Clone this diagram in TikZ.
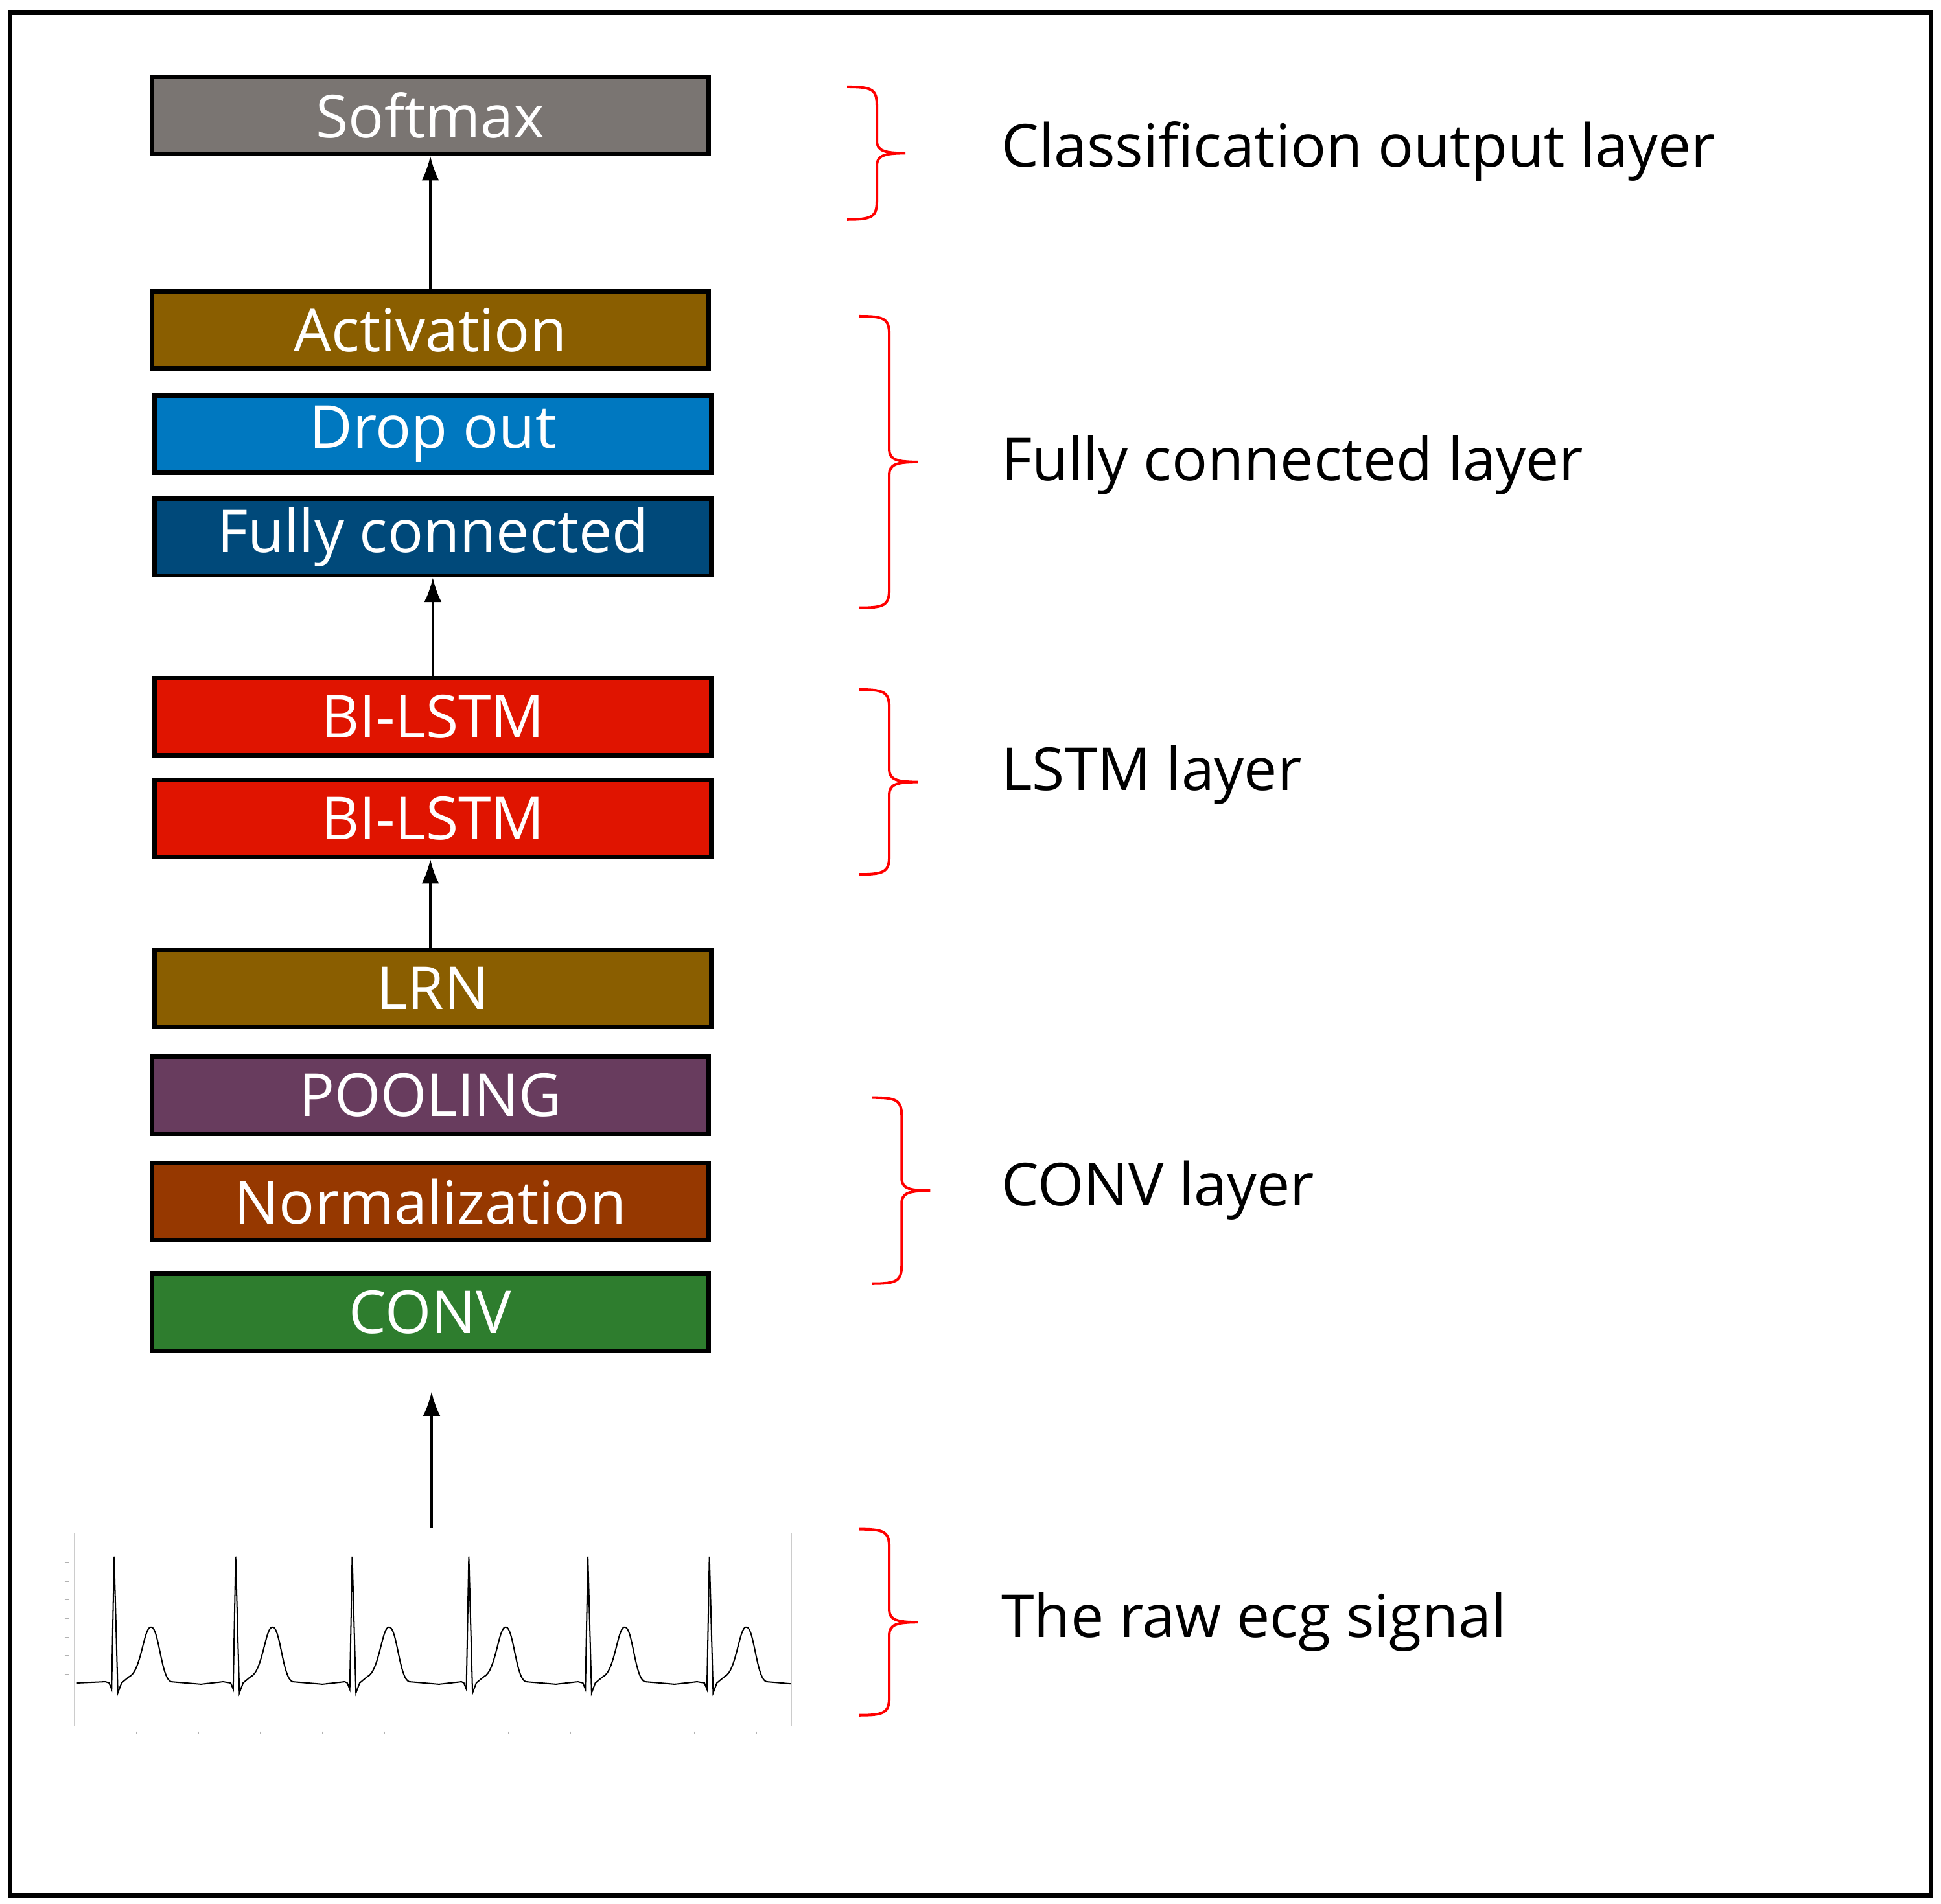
\documentclass[tikz,border=0pt]{standalone}
\usepackage{fontspec}
\setmainfont{Open Sans}
\begin{document}
\begin{tikzpicture}[x=0.05cm,y=-0.05cm,
 box/.style={draw=black,line width=5pt,minimum width=22.45cm,minimum height=3.1cm,inner sep=0pt,text=white,font=\fontsize{68}{76}\selectfont},
 lab/.style={anchor=west,font=\fontsize{68}{76}\selectfont},
 arr/.style={-{Latex[length=28pt,width=20pt]},line width=3pt},
 br/.style={red,line width=3pt}]
\usetikzlibrary{arrows.meta}
\useasboundingbox (0,0) rectangle (1565,1535);
\draw[line width=5pt] (8,10) rectangle (1557,1528);
\definecolor{cs}{HTML}{7A7572}\definecolor{ca}{HTML}{8A5E00}\definecolor{cd}{HTML}{0078C0}
\definecolor{cf}{HTML}{00497A}\definecolor{cl}{HTML}{E01400}\definecolor{cp}{HTML}{683C5E}
\definecolor{cn}{HTML}{963800}\definecolor{cc}{HTML}{2E7D2E}
\node[box,fill=cs] (soft) at (347,93) {Softmax};
\node[box,fill=ca] (act) at (347,266) {Activation};
\node[box,fill=cd] (drop) at (349,350) {Drop out};
\node[box,fill=cf] (fc) at (349,433) {Fully connected};
\node[box,fill=cl] (l1) at (349,578) {BI-LSTM};
\node[box,fill=cl] (l2) at (349,660) {BI-LSTM};
\node[box,fill=ca] (lrn) at (349,797) {LRN};
\node[box,fill=cp] (pool) at (347,883) {POOLING};
\node[box,fill=cn] (norm) at (347,969) {Normalization};
\node[box,fill=cc] (conv) at (347,1058) {CONV};
\coordinate (ecgtop) at (348,1232);
\coordinate (convin) at (348,1122);
\draw[arr] (act.north -| soft) -- (soft.south);
\draw[arr] (l1.north) -- (fc.south);
\draw[arr] (lrn.north -| soft) -- (l2.south -| soft);
\draw[arr] (ecgtop) -- (convin);
% ECG
\draw[gray!40,line width=0.7pt] (60,1236) rectangle (638,1392);
\foreach \y in {1245,1260,...,1385} \draw[gray!60,line width=0.6pt] (52,\y) -- (56,\y);
\foreach \x in {110,160,...,610} \draw[gray!60,line width=0.6pt] (\x,1396) -- (\x,1398);
\begin{scope}
\clip (60,1236) rectangle (638,1392);
\draw[line width=1.5pt] (62,1357) -- (85,1356)
 \foreach \r in {92,190,284,378,474,572} { -- (\r-4,1357) -- (\r-2,1362) -- (\r,1255) -- (\r+3,1365) -- (\r+6,1357) -- (\r+12,1352) .. controls (\r+22,1348) and (\r+24,1310) .. (\r+30,1312) .. controls (\r+36,1312) and (\r+38,1354) .. (\r+46,1356) -- (\r+70,1358) -- (\r+88,1356)};
\end{scope}
% braces
\foreach \xa/\ya/\yb in {683/70/177, 693/255/490, 693/556/705, 703/885/1035, 693/1233/1383}{
 \pgfmathsetmacro\ym{(\ya+\yb)/2}
 \draw[br] (\xa,\ya) .. controls (\xa+20,\ya) and (\xa+24,\ya+2) .. (\xa+24,\ya+15) -- (\xa+24,\ym-10) .. controls (\xa+24,\ym-2) and (\xa+30,\ym) .. (\xa+47,\ym)
  (\xa+47,\ym) .. controls (\xa+30,\ym) and (\xa+24,\ym+2) .. (\xa+24,\ym+10) -- (\xa+24,\yb-15) .. controls (\xa+24,\yb-2) and (\xa+20,\yb) .. (\xa,\yb);}
\node[lab] (t1) at (805,122) {Classification output layer};
\node[lab] (t2) at (805,375) {Fully connected layer};
\node[lab] (t3) at (805,625) {LSTM layer};
\node[lab] (t4) at (805,960) {CONV layer};
\node[lab] (t5) at (805,1308) {The raw ecg signal};
\end{tikzpicture}
\end{document}
